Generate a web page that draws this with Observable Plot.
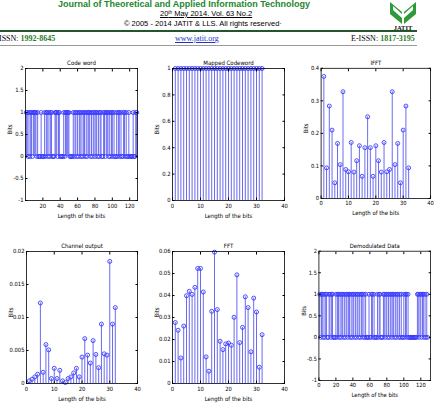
<!DOCTYPE html>
<html><head><meta charset="utf-8">
<script src="https://cdn.jsdelivr.net/npm/d3@7"></script>
<script src="https://cdn.jsdelivr.net/npm/@observablehq/plot@0.6"></script>
<style>
html,body{margin:0;padding:0;background:#fff;}
body{width:434px;height:411px;position:relative;overflow:hidden;font-family:"Liberation Sans",Arial,sans-serif;}
.abs{position:absolute;white-space:nowrap;line-height:1;}
.panel{position:absolute;}
.panel svg{display:block;overflow:visible;}
</style></head><body>
<div class="abs" style="left:58px;top:0px;font-weight:bold;font-size:9px;line-height:9px;color:#23862c;">Journal of Theoretical and Applied Information Technology</div>
<div class="abs" style="left:160px;top:10px;font-size:7.5px;text-decoration:underline;">20<span style="font-size:4.5px;vertical-align:2px;">th</span> May 2014. Vol. 63 No.2</div>
<div class="abs" style="left:124px;top:20px;font-size:7.5px;">© 2005 - 2014 JATIT &amp; LLS. All rights reserved·</div>
<div class="abs" style="left:0;top:30px;width:417px;height:1.5px;background:#24552c;"></div>
<div class="abs" style="left:-1px;top:35px;font-family:'Liberation Serif',serif;font-size:8px;">ISSN: <b style="color:#2c7a2c;">1992-8645</b></div>
<div class="abs" style="left:175px;top:35px;font-family:'Liberation Serif',serif;font-size:8px;color:#2233cc;text-decoration:underline;">www.jatit.org</div>
<div class="abs" style="left:351px;top:35px;font-family:'Liberation Serif',serif;font-size:8px;">E-ISSN: <b style="color:#2c7a2c;">1817-3195</b></div>
<div class="abs" style="left:0;top:45px;width:417px;height:1px;background:#9a9a9a;"></div>
<svg class="abs" style="left:388px;top:0px;" width="30" height="30">
  <polygon points="2,2 14,12 14,24 2,14" fill="#2f9a3a"/>
  <polygon points="28,2 16,12 16,24 28,14" fill="#2f9a3a"/>
  <polygon points="5,6 14,14 14,18 5,10" fill="#fff"/>
  <polygon points="25,6 16,14 16,18 25,10" fill="#fff"/>
  <text x="15" y="29.5" text-anchor="middle" font-family="Liberation Serif" font-weight="bold" font-size="6.5" fill="#111">JATIT</text>
</svg>
<div id="charts"></div>
<script>
// ---- data ----
const codeword = [
 1,1,0,1,0,1,1,0,1,1,1,1,0,1,0,0,
 0,1,0,0,0,1,0,1,1,0,1,0,1,1,0,0,
 0,1,1,1,0,1,1,0,0,0,0,1,0,1,1,1,
 1,1,0,0,0,0,1,0,1,1,0,1,0,1,1,0,
 1,0,1,1,0,1,0,1,1,1,0,1,0,1,1,0,
 1,1,0,1,0,1,1,0,0,1,1,0,1,1,1,0,
 1,0,1,1,0,1,0,0,1,0,1,1,0,1,0,0,
 1,1,0,1,0,0,1,0,0,0,0,1,0,0,1,1];
const mappedCodeword = [1,1,1,1,1,1,1,1,1,1,1,1,1,1,1,1,1,1,1,1,1,1,1,1,1,1,1,1,1,1,1,1];
const ifftValues = [0.375,0.094,0.284,0.210,0.048,0.169,0.104,0.328,0.089,0.082,0.172,0.081,0.116,0.162,0.068,0.156,
 0.251,0.156,0.068,0.162,0.116,0.081,0.172,0.082,0.089,0.328,0.104,0.169,0.048,0.210,0.284,0.094];
const channelOutput = [0.0004,0.00065,0.001,0.0014,0.0122,0.0017,0.0059,0.0051,0.00075,0.0023,0.00075,0.002,0.0004,0.00015,0.00075,0.001,
 0.0016,0.0023,0.001,0.004,0.0068,0.0043,0.0031,0.0065,0.0044,0.0024,0.009,0.0045,0.0043,0.0185,0.009,0.0115];
const fftValues = [0.0277,0.0242,0.0116,0.0261,0.0399,0.0419,0.0405,0.0437,0.0523,0.0523,0.0416,0.0121,0.0056,0.0328,0.0597,0.0336,
 0.0192,0.0154,0.018,0.0184,0.0174,0.0301,0.0494,0.0186,0.0255,0.0394,0.0345,0.0144,0.0388,0.0325,0.0074,0.0222];
const demodulated = [
 1,0,1,1,0,1,0,1,1,0,0,1,1,0,1,1,
 0,0,0,1,0,1,1,0,1,0,1,1,0,1,0,1,
 1,0,1,1,0,1,0,1,1,0,1,0,1,1,0,1,
 0,1,1,0,1,0,1,0,0,0,1,0,0,1,1,0,
 1,0,0,0,1,0,1,1,0,0,0,1,1,0,1,1,
 0,1,0,1,1,0,1,1,0,1,0,1,1,0,1,0,
 1,0,0,1,0,1,1,0,1,0,0,0,0,0,0,0,
 0,0,0,1,1,0,1,1,0,1,1,0,1,0,1,0];
const titles = ["Code word","Mapped Codeword","IFFT","Channel output","FFT","Demodulated Data"];
const xLabel = "Length of the bits";
const yLabel = "Bits";
const ticks128 = [20,40,60,80,100,120];
const ticks128z = [0,20,40,60,80,100,120];
const ticks40 = [0,10,20,30,40];
const bitYTicks = [-1,-0.5,0,0.5,1,1.5,2];
const mappedYTicks = [0,0.2,0.4,0.6,0.8,1];
const ifftYTicks = [0,0.1,0.2,0.3,0.4];
const chanYTicks = [0,0.005,0.01,0.015,0.02];
const fftYTicks = [0,0.01,0.02,0.03,0.04,0.05,0.06];

// ---- layout ----
const FONT = "'Liberation Sans Narrow','DejaVu Sans Condensed',sans-serif";
const STEM = "#6a6af2", MARK = "#3a3aff";
const panels = [
 {title:titles[0], values:codeword, L:25,T:68,R:137,B:200, xd:[0,129], yd:[-1,2], xt:ticks128, yt:bitYTicks},
 {title:titles[1], values:mappedCodeword, L:172,T:68,R:284,B:200, xd:[0,40], yd:[0,1], xt:ticks40, yt:mappedYTicks},
 {title:titles[2], values:ifftValues, L:321,T:68,R:432,B:200, xd:[0,40], yd:[0,0.4], xt:ticks40, yt:ifftYTicks},
 {title:titles[3], values:channelOutput, L:26,T:251,R:137,B:383, xd:[0,40], yd:[0,0.02], xt:ticks40, yt:chanYTicks},
 {title:titles[4], values:fftValues, L:172,T:251,R:284,B:383, xd:[0,40], yd:[0,0.06], xt:ticks40, yt:fftYTicks},
 {title:titles[5], values:demodulated, L:319,T:251,R:433,B:383, xd:[0,131.5], yd:[-1,2], xt:ticks128z, yt:bitYTicks}
];
const ml=28, mt=14, mr=4, mb=24;
const fmt = d => String(d);
const blank = () => "";
const host = document.getElementById("charts");
for (const p of panels) {
  const data = p.values.map((v,i)=>({i:i+1, v}));
  const w = p.R-p.L, h = p.B-p.T;
  const svg = Plot.plot({
    width: w+ml+mr, height: h+mt+mb,
    marginLeft: ml, marginTop: mt, marginRight: mr, marginBottom: mb,
    style:{fontFamily:FONT, fontSize:"5.8px", color:"#000", background:"transparent", overflow:"visible"},
    x:{domain:p.xd}, y:{domain:p.yd},
    marks:[
      Plot.ruleX(data.filter(d=>d.v!==0), {x:"i", y1:0, y2:"v", stroke:STEM, strokeWidth:1}),
      Plot.dot(data, {x:"i", y:"v", r:2, stroke:MARK, strokeWidth:0.9, fill:"none"}),
      Plot.frame({stroke:"#000", strokeWidth:0.8}),
      Plot.axisX(p.xt, {tickSize:0, tickPadding:3, tickFormat:fmt, label:null}),
      Plot.axisX(p.xt, {tickSize:-2.5, tickFormat:blank, label:null}),
      Plot.axisX(p.xt, {anchor:"top", tickSize:-2.5, tickFormat:blank, label:null}),
      Plot.axisY(p.yt, {tickSize:0, tickPadding:2, tickFormat:fmt, label:null}),
      Plot.axisY(p.yt, {tickSize:-2.5, tickFormat:blank, label:null}),
      Plot.axisY(p.yt, {anchor:"right", tickSize:-2.5, tickFormat:blank, label:null}),
      Plot.text([p.title], {frameAnchor:"top", dy:-8, text:d=>d, fontSize:6}),
      Plot.text([xLabel], {frameAnchor:"bottom", dy:17, text:d=>d, fontSize:6}),
      Plot.text([yLabel], {frameAnchor:"left", dx:-15, rotate:-90, text:d=>d, fontSize:6})
    ]
  });
  const div = document.createElement("div");
  div.className = "panel";
  div.style.left = (p.L-ml)+"px";
  div.style.top = (p.T-mt)+"px";
  div.appendChild(svg);
  host.appendChild(div);
}
</script>
</body></html>
